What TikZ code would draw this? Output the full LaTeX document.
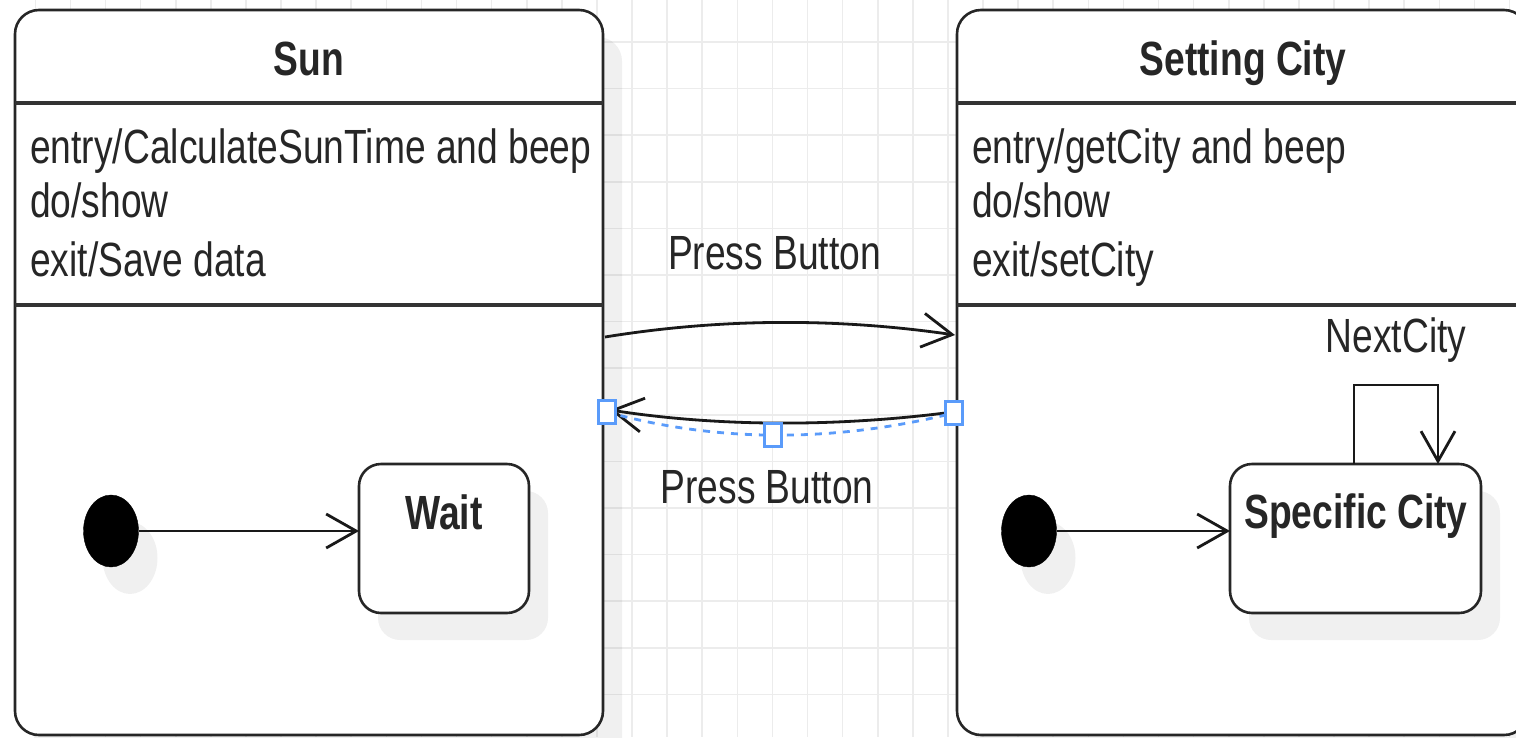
\documentclass[tikz,border=0pt]{standalone}
\usepackage{fontspec}
\setmainfont[FakeStretch=0.775]{Liberation Sans}
\usetikzlibrary{arrows.meta,shapes.geometric}
\definecolor{gridgray}{RGB}{236,236,236}
\definecolor{selblue}{RGB}{90,155,250}
\begin{document}
\begin{tikzpicture}[x=1pt,y=-1pt,
  gridline/.style={draw=gridgray,line width=1.6pt},
  shadowed/.style={preaction={fill=black,fill opacity=0.06,draw=none,transform canvas={xshift=19pt,yshift=-27pt}}},
  bigstate/.style={draw=black!85,line width=2.6pt,fill=white,rounded corners=24pt,shadowed,inner sep=0pt,outer sep=0pt,anchor=north west},
  simplestate/.style={draw=black!85,line width=2.6pt,fill=white,rounded corners=22pt,shadowed,inner sep=0pt,outer sep=0pt,anchor=north west},
  initstate/.style={ellipse,draw=black,fill=black,shadowed,minimum width=55pt,minimum height=72pt,inner sep=0pt,outer sep=0pt},
  divider/.style={draw=black!80,line width=3.2pt},
  hdr/.style={font=\fontsize{48}{57}\selectfont\bfseries,inner sep=0pt,text=black!85},
  body/.style={font=\fontsize{48}{57}\selectfont,inner sep=0pt,text=black!85},
  trans/.style={draw=black!90,line width=2.8pt,-{Straight Barb[length=30pt,width=34pt,line width=2.8pt]}},
  handle/.style={draw=selblue,fill=white,line width=2.5pt,minimum width=17pt,minimum height=23pt,inner sep=0pt}]
\useasboundingbox (0,0) rectangle (1516,737);
\clip (0,0) rectangle (1516,737);
\fill[white] (0,0) rectangle (1516,737);
% background grid
\begin{scope}
\clip (15,0) rectangle (1516,737);
\foreach \i in {0,...,43} \draw[gridline] ({632+35.1*(\i-18)},0) -- ++(0,737);
\foreach \j in {0,...,16} \draw[gridline] (0,{42+46.6*(\j-1)}) -- ++(1516,0);
\end{scope}

% composite states
\node[bigstate,minimum width=588pt,minimum height=725pt] (sun) at (15,10) {};
\node[bigstate,minimum width=571pt,minimum height=725pt] (city) at (957,10) {};

\draw[divider] ([yshift=-93pt]sun.north west) -- ([yshift=-93pt]sun.north east);
\draw[divider] ([yshift=-295pt]sun.north west) -- ([yshift=-295pt]sun.north east);
\draw[divider] ([yshift=-93pt]city.north west) -- ([yshift=-93pt]city.north east);
\draw[divider] ([yshift=-295pt]city.north west) -- ([yshift=-295pt]city.north east);

\node[hdr,anchor=base] (sunT) at (309,75) {Sun};
\node[hdr,anchor=base] (cityT) at (1243,75) {Setting City};

\node[body,anchor=base west] (sun1) at (30,163) {entry/CalculateSunTime and beep};
\node[body,anchor=base west] (sun2) at (30,217) {do/show};
\node[body,anchor=base west] (sun3) at (30,276) {exit/Save data};
\node[body,anchor=base west] (city1) at (972,163) {entry/getCity and beep};
\node[body,anchor=base west] (city2) at (972,217) {do/show};
\node[body,anchor=base west] (city3) at (972,276) {exit/setCity};

% inner states
\node[initstate] (i1) at (111,531) {};
\node[simplestate,minimum width=170pt,minimum height=149pt] (wait) at (359,464) {};
\node[hdr,anchor=base] (waitT) at (444,529) {Wait};
\draw[trans] (i1.east) -- (wait.west |- i1.east);

\node[initstate] (i2) at (1029,531) {};
\node[simplestate,minimum width=251pt,minimum height=149pt] (spec) at (1230,464) {};
\node[hdr,anchor=base] (specT) at (1356,528) {Specific City};
\draw[trans] (i2.east) -- (spec.west |- i2.east);

\draw[trans] ([xshift=-1.5pt]spec.north) -- ++(0,-79) -| ([xshift=82.5pt]spec.north);
\node[body,anchor=base] (nextL) at (1396,352) {NextCity};

% transitions between composite states
\coordinate (a1) at (605,337);
\coordinate (a2) at (955,335);
\draw[trans] (a1) .. controls (722,318) and (838,318) .. (a2);
\node[body,anchor=base] (pb1) at (774.5,269) {Press Button};

\coordinate (b1) at (953,412);
\coordinate (b2) at (610,410);
\draw[trans] (b1) .. controls (838,427) and (720,427) .. (b2);
\node[body,anchor=base] (pb2) at (767,503) {Press Button};

% selection overlay
\coordinate (s1) at (607,412);
\coordinate (s2) at (773,435);
\coordinate (s3) at (954,413);
\draw[selblue,line width=2.8pt,dash pattern=on 7pt off 7pt] (s1) .. controls (717.7,442.7) and (833.7,442.7) .. (s3);
\node[handle] (h1) at (s1) {};
\node[handle] (h2) at (s2) {};
\node[handle] (h3) at (s3) {};
\end{tikzpicture}
\end{document}
